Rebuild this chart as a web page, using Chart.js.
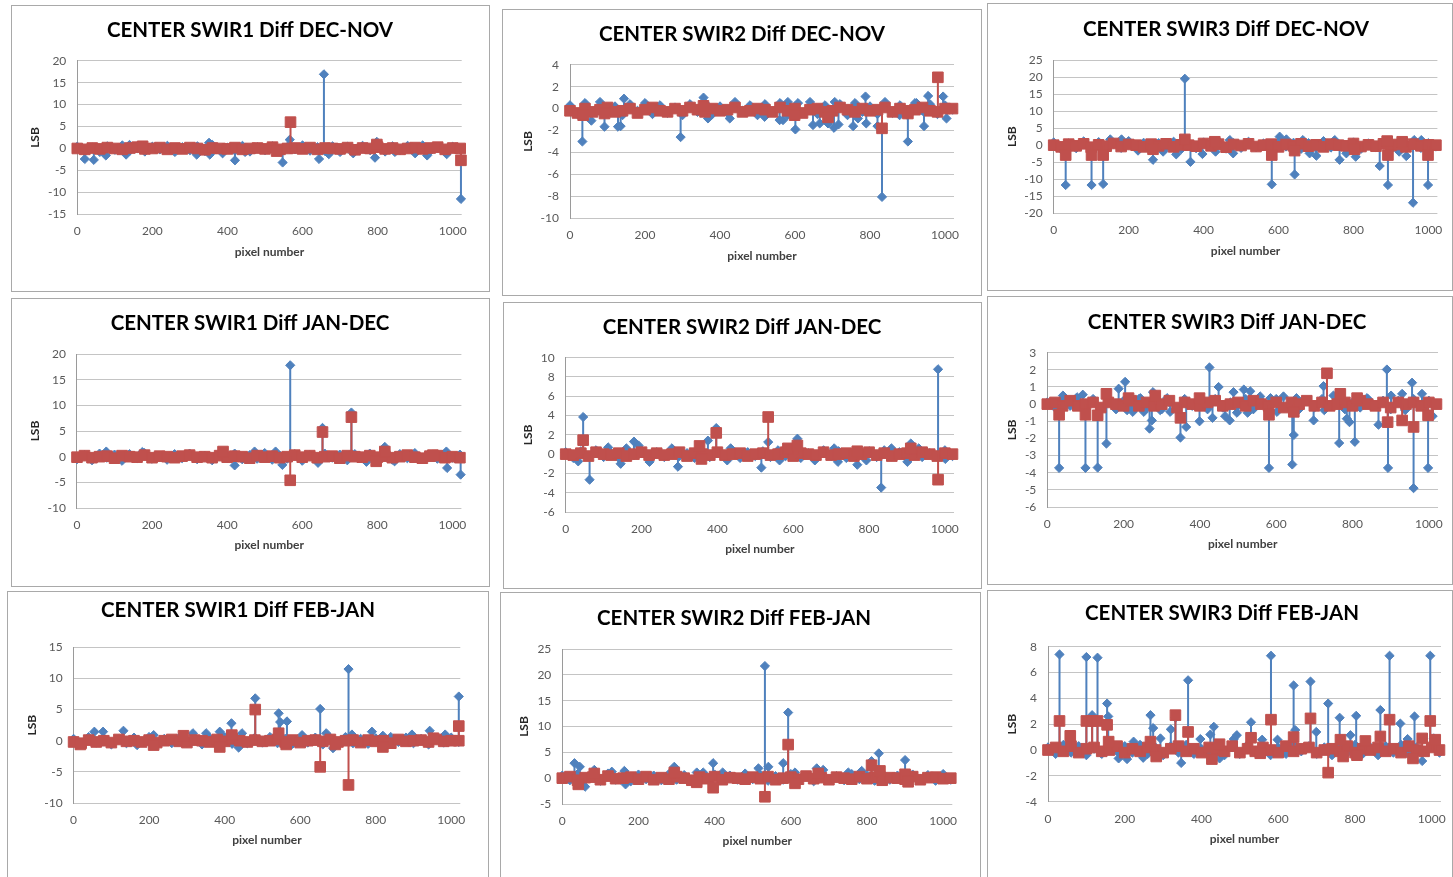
<!DOCTYPE html>
<html>
<head>
<meta charset="utf-8">
<title>CENTER SWIR Diff</title>
<script src="https://cdn.jsdelivr.net/npm/chart.js"></script>
<style>
body{margin:0;width:1453px;height:877px;overflow:hidden;background:#fff;position:relative}
.box{position:absolute;border:1.5px solid #a9a9a9;box-sizing:border-box;background:#fff}
canvas{position:absolute}
</style>
</head>
<body>
<script>
// ---- data ----
const titles = [
  'CENTER SWIR1 Diff DEC-NOV', 'CENTER SWIR2 Diff DEC-NOV', 'CENTER SWIR3 Diff DEC-NOV',
  'CENTER SWIR1 Diff JAN-DEC', 'CENTER SWIR2 Diff JAN-DEC', 'CENTER SWIR3 Diff JAN-DEC',
  'CENTER SWIR1 Diff FEB-JAN', 'CENTER SWIR2 Diff FEB-JAN', 'CENTER SWIR3 Diff FEB-JAN'
];
const yMin  = [-15, -10, -20, -10, -6, -6, -10, -5, -4];
const yMax  = [20, 4, 25, 20, 10, 3, 15, 25, 8];
const yStep = [5, 2, 5, 5, 2, 1, 5, 5, 2];
const xTickValues = [0, 200, 400, 600, 800, 1000];
const xTicksMax = 1024;

// baseline samples along the detector
const pixelGrid = [0,20,40,60,80,100,120,140,160,180,200,220,240,260,280,300,320,340,360,380,400,420,440,460,480,500,520,540,560,580,600,620,640,660,680,700,720,740,760,780,800,820,840,860,880,900,920,940,960,980,1000,1020];

const swir1DecNovBlue = [0.4,-0.6,0.2,-0.8,0.5,-0.3,0.7,-0.5,0.1,-0.7,0.4,-0.2,0.6, -0.8,0.3,-0.4,0.5,-0.6,0.8,-0.3,0.2,-0.5,0.6,-0.7,0.3,-0.4, 0.5,-0.6,0.4,-0.2,0.7,-0.5,0.3,-0.6,0.5,-0.8,0.4,-0.3,0.6, -0.4,0.2,-0.7,0.5,-0.4,0.6,-0.3,0.7,-0.6,0.2,-0.5,0.4,-0.3];
const swir1DecNovRed = [0,-0.2,0.1,-0.1,0.2,0,-0.2,0.1,0.3,-0.1,0,0.2,-0.2, 0.1,-0.1,0.2,0,-0.3,0.1,0,-0.1,0.2,-0.2,0,0.1,-0.1, 0.3,-0.2,0,0.1,-0.1,0.2,-0.2,0.1,0,-0.1,0.2,-0.3,0.1, 0,0.3,-0.1,0.1,-0.2,0,0.2,-0.1,0.1,0.3,-0.2,0.1,0];
const swir1DecNovBlueSpikes = [[20,-2.4],[44,-2.6],[76,-1.6],[130,-1.4],[139,0.8],[318,-1.4],[351,1.3],[353,-1.4],[387,-1.1],[420,-2.7],[447,-0.8],[547,-3.2],[566,2.0],[644,-2.4],[657,16.9],[670,-1.3],[735,-1.1],[793,-2.1],[798,1.5],[846,-0.8],[900,-1.1],[932,-1.6],[984,-1.3],[1022,-11.5]];
const swir1DecNovRedSpikes = [[174,0.5],[531,-0.6],[568,6.0],[798,0.9],[1022,-2.7]];

const swir2DecNovBlue = [0.3,-0.5,0.5,-0.3,0.6,-0.4,0.2,-0.6,0.4,-0.2,0.5,-0.5,0.3, -0.4,0.1,-0.6,0.4,-0.3,0.5,-0.5,0.2,-0.4,0.6,-0.2,0.3,-0.6, 0.4,-0.3,0.5,-0.6,0.2,-0.4,0.6,-0.5,0.3,-0.2,0.4,-0.6,0.5, -0.3,0.2,-0.5,0.6,-0.4,0.3,-0.6,0.5,-0.2,0.4,-0.5,0.3,-0.1];
const swir2DecNovRed = [-0.2,-0.4,0,-0.3,-0.1,0.1,-0.3,-0.2,0,-0.4,-0.1,0.1,-0.2, -0.3,0,-0.2,0.1,-0.1,-0.3,0,-0.2,-0.1,0.1,-0.3,-0.2,0, -0.1,-0.3,0.1,-0.2,0,-0.4,-0.1,0,-0.3,-0.2,0.1,-0.1,-0.3, 0,-0.2,-0.1,0.1,-0.3,0,-0.2,-0.1,0.1,-0.2,-0.3,0,0];
const swir2DecNovBlueSpikes = [[33,-3.0],[57,-1.1],[92,-1.65],[128,-1.65],[135,-1.6],[144,0.9],[295,-2.6],[356,1.0],[368,-0.9],[426,-0.9],[519,-0.75],[559,-1.05],[568,-1.05],[581,0.6],[601,-1.9],[608,0.5],[648,-1.5],[666,-1.35],[688,-1.35],[704,-1.75],[706,0.6],[716,-1.45],[755,-1.6],[768,-0.9],[788,1.1],[790,-1.35],[820,-1.6],[832,-8.05],[879,-0.6],[901,-3.0],[924,0.5],[944,-1.6],[955,1.15],[995,1.1],[1004,-0.9]];
const swir2DecNovRedSpikes = [[35,-0.6],[92,-0.45],[356,0.25],[599,-0.6],[688,-0.8],[832,-1.8],[901,-0.45],[981,2.85]];

const swir3DecNovBlue = [0.8,-1.2,0.5,-0.9,1.1,-0.6,0.9,-1.3,0.4,-0.8,1.2,-0.5,0.7, -1.1,0.6,-0.7,1.0,-1.2,0.3,-0.9,0.8,-0.5,1.1,-1.0,0.6,-0.8, 1.0,-0.6,0.5,-1.2,0.9,-0.4,0.7,-1.1,0.6,-0.8,1.2,-0.7,0.4, -0.9,0.8,-1.1,0.5,-0.6,1.0,-1.2,0.7,-0.5,0.9,-0.8,0.6,-0.4];
const swir3DecNovRed = [0,-0.5,0.3,-0.2,0.4,-0.6,0.1,-0.3,0.5,-0.4,0.2,0,-0.5, 0.3,-0.2,0.4,-0.5,0.1,0,-0.3,0.5,-0.2,0.3,-0.6,0.2,-0.1, 0.4,-0.4,0,0.3,-0.5,0.2,-0.2,0.4,-0.3,0.1,-0.5,0.3,0, -0.2,0.5,-0.4,0.1,-0.3,0.4,-0.1,0.2,-0.5,0.3,-0.2,0.1,0];
const swir3DecNovBlueSpikes = [[32,-11.7],[101,-11.7],[132,-11.4],[151,1.7],[181,1.7],[225,-1.6],[265,-4.3],[292,-1.9],[327,-2.7],[350,19.5],[365,-4.9],[397,-2.6],[432,-1.9],[470,1.5],[479,-2.4],[582,-11.5],[603,2.5],[621,1.7],[643,-8.6],[665,1.5],[683,-2.4],[701,-3.1],[750,1.5],[763,-4.3],[781,-2.4],[806,-3.4],[870,-6.1],[892,-11.7],[922,-1.9],[941,-3.2],[959,-16.9],[962,1.5],[981,1.5],[999,-11.7]];
const swir3DecNovRedSpikes = [[32,-2.9],[101,-2.9],[132,-2.9],[265,-1.2],[350,1.7],[430,1.0],[582,-2.9],[643,-1.6],[803,-1.2],[890,1.2],[892,-2.9],[930,1.0],[999,-2.9]];

const swir1JanDecBlue = [-0.5,0.3,-0.7,0.6,-0.2,0.4,-0.8,0.5,-0.3,0.7,-0.4,0.2,-0.6, 0.5,-0.3,0.6,-0.5,0.2,-0.7,0.4,-0.2,0.6,-0.5,0.3,-0.4,0.7, -0.6,0.2,-0.4,0.5,-0.8,0.3,-0.5,0.6,-0.2,0.4,-0.7,0.5,-0.3, 0.6,-0.4,0.2,-0.6,0.5,-0.3,0.7,-0.5,0.3,-0.4,0.6,-0.2,0.4];
const swir1JanDecRed = [-0.1,0.2,-0.2,0,0.1,-0.3,0.2,0,-0.1,0.3,-0.2,0.1,0, -0.2,0.1,0.3,-0.1,0,-0.2,0.2,-0.1,0.1,0,-0.3,0.2,-0.1, 0.1,-0.2,0,0.3,-0.1,0.2,-0.2,0,0.1,-0.3,0.2,0,-0.1, 0.2,-0.1,0.1,-0.2,0,0.3,-0.1,-0.3,0.1,0.2,-0.2,0,-0.2];
const swir1JanDecBlueSpikes = [[78,1.0],[174,0.9],[420,-1.7],[473,1.0],[529,1.0],[547,-1.6],[568,17.8],[642,-1.2],[654,5.6],[731,8.6],[771,-1.0],[820,1.9],[846,-0.9],[984,1.0],[986,-2.2],[1022,-3.5]];
const swir1JanDecRedSpikes = [[389,1.0],[568,-4.6],[654,4.8],[731,7.7],[797,-0.9],[820,1.0],[948,0.3]];

const swir2JanDecBlue = [0.2,-0.4,0.3,-0.2,0.4,-0.3,0.1,-0.4,0.3,-0.1,0.4,-0.3,0.2, -0.3,0.4,-0.2,0.1,-0.4,0.3,-0.3,0.2,-0.1,0.4,-0.4,0.2,-0.2, 0.3,-0.3,0.4,-0.2,0.2,-0.4,0.1,-0.3,0.4,-0.2,0.3,-0.4,0.2, -0.1,0.3,-0.3,0.4,-0.2,0.2,-0.4,0.3,-0.3,0.1,-0.2,0.4,-0.2];
const swir2JanDecRed = [0,-0.1,0.1,-0.2,0.2,0,-0.1,0.1,-0.2,0,0.2,-0.1,0.1, -0.1,0,0.2,-0.2,0.1,0,-0.1,0.2,-0.1,0,0.1,-0.2,0, 0.1,-0.1,0,0.2,-0.2,0.1,0,-0.1,0.2,-0.1,0,0.1,-0.2, 0,0.2,-0.1,0.1,-0.2,0,0.1,-0.1,0.2,0,-0.2,0.1,0];
const swir2JanDecBlueSpikes = [[33,-0.75],[46,3.85],[63,-2.65],[112,0.7],[145,-1.0],[160,0.6],[180,1.3],[192,0.9],[221,-0.8],[280,0.6],[296,-1.3],[375,1.4],[397,2.7],[426,-0.65],[435,0.6],[516,-1.4],[534,1.25],[564,-0.65],[611,1.6],[657,-0.65],[708,0.6],[718,-0.8],[769,-1.1],[793,-0.65],[832,-3.47],[859,0.6],[901,-0.8],[910,1.1],[931,0.6],[982,8.8],[1001,-0.5]];
const swir2JanDecRedSpikes = [[46,1.45],[353,0.85],[358,-0.5],[397,2.2],[534,3.85],[586,0.6],[611,0.9],[769,0.3],[910,0.6],[982,-2.65]];

const swir3JanDecBlue = [0.1,-0.2,0.3,-0.1,0.2,-0.3,0.3,-0.2,0.1,-0.3,0.2,-0.1,0.3, -0.2,0.2,-0.3,0.1,-0.2,0.3,-0.1,0.2,-0.3,0.3,-0.2,0.1,-0.1, 0.3,-0.3,0.2,-0.1,0.3,-0.2,0.1,-0.3,0.2,-0.2,0.3,-0.1,0.2, -0.3,0.1,-0.2,0.3,-0.1,0.2,-0.3,0.2,-0.2,0.3,-0.1,0.2,0];
const swir3JanDecRed = [0,0.1,-0.1,0.2,-0.1,0,0.1,-0.2,0.1,0,-0.1,0.2,-0.1, 0.1,-0.1,0,0.2,-0.2,0.1,0,-0.1,0.1,0.2,-0.1,0,0.1, -0.1,0.2,0,-0.1,0.1,-0.2,0.1,0,0.2,-0.1,0.1,-0.1,0, 0.1,-0.1,0.2,0,-0.1,0.1,-0.2,0.1,0,0.1,-0.1,0.1,0];
const swir3JanDecBlueSpikes = [[31,-3.72],[41,0.5],[78,0.4],[93,0.55],[100,-3.72],[132,-3.7],[155,-2.3],[187,0.9],[204,1.3],[209,-0.35],[224,-0.45],[244,0.35],[253,-0.45],[268,-1.43],[274,-0.95],[277,0.7],[296,-0.35],[314,0.35],[322,-0.45],[349,-1.95],[364,-1.33],[399,-1.0],[425,2.14],[433,-0.8],[449,1.0],[466,-0.7],[478,-0.95],[488,0.7],[497,-0.5],[515,0.85],[525,-0.5],[532,0.75],[558,0.45],[581,-3.72],[585,0.35],[602,-0.45],[619,0.45],[642,-3.52],[646,-1.8],[653,0.35],[698,-0.95],[724,1.05],[726,-0.35],[750,0.5],[765,-2.27],[785,-0.85],[792,-1.05],[806,-2.2],[838,0.35],[868,-1.2],[890,2.02],[893,-3.72],[901,0.5],[930,0.6],[938,-0.35],[956,1.25],[960,-4.9],[982,0.6],[998,-3.72],[1010,-0.7]];
const swir3JanDecRedSpikes = [[31,-0.62],[100,-0.62],[132,-0.65],[155,0.6],[213,0.35],[283,0.5],[349,-0.8],[399,0.35],[581,-0.62],[646,-0.45],[733,1.8],[768,0.6],[812,0.35],[892,-1.05],[930,-0.95],[960,-1.33],[998,-0.65]];

const swir1FebJanBlue = [0.3,-0.5,0.6,-0.3,0.4,-0.6,0.2,-0.4,0.5,-0.2,0.6,-0.5,0.3, -0.4,0.5,-0.3,0.2,-0.6,0.4,-0.2,0.6,-0.5,0.3,-0.4,0.5,-0.3, 0.6,-0.4,0.3,-0.5,0.2,-0.3,0.5,-0.6,0.4,-0.2,0.6,-0.4,0.3, -0.5,0.4,-0.3,0.6,-0.2,0.5,-0.4,0.3,-0.6,0.4,-0.3,0.5,-0.2];
const swir1FebJanRed = [-0.2,-0.4,0.1,-0.2,0,-0.3,0.2,-0.1,0,-0.2,0.1,-0.3,0, 0.2,-0.1,-0.3,0.1,0,-0.2,0.2,-0.1,0.3,0,-0.2,0.1,-0.1, 0,0.2,-0.2,0.1,-0.3,0,0.1,-0.1,0.2,-0.2,0,0.1,-0.3, 0.1,-0.1,0,-0.4,0.2,-0.1,0,0.1,-0.2,0.2,-0.1,0,0];
const swir1FebJanBlueSpikes = [[55,1.45],[78,1.45],[132,1.6],[168,-0.7],[212,0.9],[316,1.2],[351,1.2],[387,1.45],[418,2.8],[437,-1.1],[446,1.2],[481,6.8],[543,4.4],[547,3.0],[565,3.1],[605,0.9],[653,5.1],[669,1.2],[687,-1.2],[728,11.5],[737,1.0],[790,1.45],[819,0.8],[896,1.0],[943,1.6],[984,1.0],[1020,7.1]];
const swir1FebJanRedSpikes = [[18,-0.6],[212,-0.7],[291,0.8],[387,-1.0],[419,0.9],[481,5.0],[543,1.2],[563,-0.6],[653,-4.2],[693,-0.6],[728,-7.1],[819,-1.0],[953,0.4],[1020,2.35]];

const swir2FebJanBlue = [0.5,-0.4,0.8,-0.2,0.6,-0.5,0.9,-0.3,0.4,-0.6,0.7,-0.2,0.5, -0.4,0.8,-0.3,0.6,-0.5,0.4,-0.2,0.7,-0.4,0.5,-0.3,0.9,-0.2, 0.6,-0.5,0.4,-0.3,0.8,-0.2,0.5,-0.6,0.7,-0.3,0.4,-0.4,0.8, -0.2,0.6,-0.5,0.9,-0.3,0.5,-0.4,0.7,-0.2,0.6,-0.5,0.8,-0.3];
const swir2FebJanRed = [0,0.3,-0.4,0.1,0.2,-0.3,0.4,-0.1,0,0.2,-0.2,0.3,-0.3, 0.1,-0.2,0.3,0,-0.4,0.2,-0.1,0.3,-0.3,0.1,0,-0.2,0.2, -0.1,0.3,-0.3,0,0.2,-0.2,0.4,-0.1,0.1,-0.3,0.2,0,-0.2, 0.3,-0.1,0.2,-0.4,0.1,0,-0.2,0.3,-0.3,0.1,0.2,-0.1,0];
const swir2FebJanBlueSpikes = [[32,2.9],[46,2.2],[60,-1.65],[84,1.6],[130,1.25],[163,1.4],[166,-1.2],[294,2.2],[353,1.1],[370,1.1],[396,2.9],[421,1.1],[515,1.9],[532,21.7],[541,2.2],[580,2.9],[593,12.7],[611,1.1],[668,1.9],[685,1.6],[751,1.1],[786,1.4],[812,3.3],[831,4.8],[900,3.5]];
const swir2FebJanRedSpikes = [[42,-1.2],[84,0.9],[294,1.1],[353,-0.8],[396,-1.85],[532,-3.6],[593,6.5],[611,-1.0],[672,0.9],[812,2.5],[834,1.4],[900,0.75],[908,-0.7]];

const swir3FebJanBlue = [0.2,-0.3,0.4,-0.2,0.3,-0.4,0.1,-0.3,0.4,-0.1,0.3,-0.2,0.4, -0.3,0.2,-0.4,0.3,-0.2,0.4,-0.3,0.1,-0.2,0.3,-0.4,0.2,-0.3, 0.4,-0.2,0.3,-0.4,0.2,-0.3,0.4,-0.1,0.3,-0.3,0.2,-0.4,0.3, -0.2,0.4,-0.3,0.2,-0.4,0.3,-0.2,0.4,-0.3,0.2,-0.1,0.3,-0.2];
const swir3FebJanRed = [0,0.2,-0.1,0.3,-0.2,0.1,0.2,-0.1,0,0.3,-0.2,0.1,-0.1, 0.2,0,-0.2,0.1,0.3,-0.1,0.1,-0.2,0.2,0,-0.1,0.3,-0.2, 0.1,-0.1,0.2,0,-0.2,0.3,-0.1,0.1,0.2,-0.2,0,0.1,-0.1, 0.3,-0.2,0.1,0,0.2,-0.1,0.1,-0.2,0.3,0,-0.1,0.2,0];
const swir3FebJanBlueSpikes = [[30,7.4],[100,7.2],[115,2.7],[129,7.15],[154,3.6],[157,2.6],[184,-0.65],[206,-0.7],[223,0.65],[248,-0.6],[267,2.7],[274,1.7],[293,0.9],[320,1.6],[332,2.5],[347,-1.0],[365,5.4],[397,0.85],[423,1.2],[432,1.8],[447,-0.65],[484,0.85],[492,1.15],[529,2.15],[558,0.8],[581,7.3],[598,0.8],[640,5.0],[644,1.55],[684,5.3],[699,1.4],[730,3.6],[760,2.5],[788,1.15],[803,2.65],[866,3.1],[890,7.3],[918,2.05],[937,0.85],[955,2.6],[975,-0.85],[996,7.3],[1005,0.9]];
const swir3FebJanRedSpikes = [[30,2.25],[58,1.1],[100,2.25],[115,2.25],[129,2.25],[154,1.95],[158,0.65],[267,0.65],[282,-0.5],[332,2.7],[365,1.4],[427,-0.7],[447,0.45],[529,0.95],[553,-0.25],[581,2.35],[640,1.0],[684,2.45],[730,-1.75],[762,0.8],[769,-0.5],[805,-0.4],[827,0.7],[866,1.05],[890,2.35],[951,-0.65],[975,0.9],[996,2.25],[1009,0.8]];

const blueBase = [swir1DecNovBlue, swir2DecNovBlue, swir3DecNovBlue, swir1JanDecBlue, swir2JanDecBlue, swir3JanDecBlue, swir1FebJanBlue, swir2FebJanBlue, swir3FebJanBlue];
const redBase = [swir1DecNovRed, swir2DecNovRed, swir3DecNovRed, swir1JanDecRed, swir2JanDecRed, swir3JanDecRed, swir1FebJanRed, swir2FebJanRed, swir3FebJanRed];
const blueSpikes = [swir1DecNovBlueSpikes, swir2DecNovBlueSpikes, swir3DecNovBlueSpikes, swir1JanDecBlueSpikes, swir2JanDecBlueSpikes, swir3JanDecBlueSpikes, swir1FebJanBlueSpikes, swir2FebJanBlueSpikes, swir3FebJanBlueSpikes];
const redSpikes = [swir1DecNovRedSpikes, swir2DecNovRedSpikes, swir3DecNovRedSpikes, swir1JanDecRedSpikes, swir2JanDecRedSpikes, swir3JanDecRedSpikes, swir1FebJanRedSpikes, swir2FebJanRedSpikes, swir3FebJanRedSpikes];

// ---- page layout (frame box, plot area, title centre, LSB centre) ----
const frames = [
  {box:[11,5,490,292],    plot:[77.3,60.7,461.7,214.3],   tcx:250,    tcy:30.7,  lsbx:35},
  {box:[502,9,982,296],   plot:[570.3,64.7,954.3,218.3],  tcx:742.3,  tcy:34,    lsbx:528.3},
  {box:[987,3,1453,291],  plot:[1054,60,1437.7,213.3],    tcx:1226.3, tcy:29.3,  lsbx:1012.3},
  {box:[11,298,490,587],  plot:[77.3,354,461.7,508],      tcx:250.3,  tcy:323.7, lsbx:35},
  {box:[503,302,982,589], plot:[566,357.7,954.3,512],     tcx:742.3,  tcy:327,   lsbx:528.3},
  {box:[987,296,1453,585],plot:[1047,352.7,1437.7,507],   tcx:1226.7, tcy:322.7, lsbx:1012.3},
  {box:[7,591,489,880],   plot:[73.3,647.3,460,803],      tcx:237.7,  tcy:610.7, lsbx:31.7},
  {box:[500,592,981,880], plot:[562.3,649,952.3,804],     tcx:734,    tcy:618.3, lsbx:524.3},
  {box:[987,590,1453,880],plot:[1047.7,646.7,1440.7,801.7],tcx:1221.7,tcy:613.3, lsbx:1012.3}
];

const BLUE = '#4F81BD', RED = '#C0504D';
Chart.defaults.font.family = 'Lato, "Liberation Sans", sans-serif';
Chart.defaults.animation = false;

function series(base, spikes, color, style, r) {
  const line = pixelGrid.map((p, i) => ({x: p, y: base[i]}));
  const stems = [];
  spikes.forEach(s => { stems.push({x: s[0], y: 0}, {x: s[0], y: s[1], tip: true}, {x: s[0], y: null}); });
  const common = {borderColor: color, backgroundColor: color, pointBackgroundColor: color,
    pointBorderColor: color, pointBorderWidth: 1, pointStyle: style, borderWidth: 2,
    tension: 0, clip: false, spanGaps: false};
  return [
    Object.assign({data: stems, pointRadius: c => (c.raw && c.raw.tip) ? r : 0}, common),
    Object.assign({data: line, pointRadius: r}, common)
  ];
}

function yTicks(k) {
  const out = [];
  for (let v = yMin[k]; v <= yMax[k]; v += yStep[k]) out.push({value: v});
  return out;
}

const HW = 240, TITLE_SIZE = 20.5, AX_SIZE = 12, XH = 50;
frames.forEach(f => {
  const [bx0, by0, bx1, by1] = f.box;
  const frame = document.createElement('div');
  frame.className = 'box';
  Object.assign(frame.style, {left: bx0 + 'px', top: by0 + 'px', width: (bx1 - bx0) + 'px', height: (by1 - by0) + 'px'});
  document.body.appendChild(frame);
});

frames.forEach((f, k) => {
  const [bx0, by0, bx1, by1] = f.box;
  const [pl, pt, pr, pb] = f.plot;
  const cl = f.tcx - HW, ct = by0 + 1, cw = 2 * HW, ch = Math.min(by1, 877) - by0 - 2;
  const side = cl + cw - pr;
  const yW = pl - cl - side;
  const tlh = TITLE_SIZE * 1.2, alh = AX_SIZE * 1.2;
  const tTop = f.tcy - ct - tlh / 2;
  const tBot = pt - ct - tTop - tlh;
  const padBottom = ch - (pb - ct) - XH;
  const lsbPad = f.lsbx - (pl - yW) - alh / 2;

  const cv = document.createElement('canvas');
  cv.width = cw; cv.height = ch;
  Object.assign(cv.style, {left: cl + 'px', top: ct + 'px', width: cw + 'px', height: ch + 'px'});
  document.body.appendChild(cv);

  new Chart(cv, {
    type: 'line',
    data: {datasets: series(redBase[k], redSpikes[k], RED, 'rect', 7.5)
                .concat(series(blueBase[k], blueSpikes[k], BLUE, 'rectRot', 4.6))},
    options: {
      responsive: false,
      events: [],
      layout: {padding: {left: side, right: side, top: 0, bottom: padBottom}},
      plugins: {
        legend: {display: false},
        tooltip: {enabled: false},
        title: {display: true, text: titles[k], color: '#000',
          font: {size: TITLE_SIZE, weight: 'bold'}, padding: {top: tTop, bottom: tBot}}
      },
      scales: {
        x: {type: 'linear', min: 0, max: xTicksMax,
          afterBuildTicks: s => { s.ticks = xTickValues.map(v => ({value: v})); },
          afterFit: s => { s.height = XH; },
          grid: {display: false, drawTicks: false},
          border: {display: false},
          ticks: {autoSkip: false, padding: 10, color: '#595959',
            font: {size: AX_SIZE}, maxRotation: 0, callback: v => String(v)},
          title: {display: true, text: 'pixel number', color: '#404040',
            font: {size: AX_SIZE, weight: 'bold'}, padding: {top: 0, bottom: XH - 37.5 - alh / 2}}
        },
        y: {min: yMin[k], max: yMax[k],
          afterBuildTicks: s => { s.ticks = yTicks(k); },
          afterFit: s => { s.width = yW; },
          grid: {color: '#c4c4c4', drawTicks: false},
          border: {display: true, color: '#9a9a9a'},
          ticks: {autoSkip: false, padding: 11, color: '#595959',
            font: {size: AX_SIZE}, callback: v => String(v)},
          title: {display: true, text: 'LSB', color: '#262626',
            font: {size: AX_SIZE, weight: 'bold'}, padding: {top: lsbPad, bottom: 0}}
        }
      }
    }
  });
});
</script>
</body>
</html>
